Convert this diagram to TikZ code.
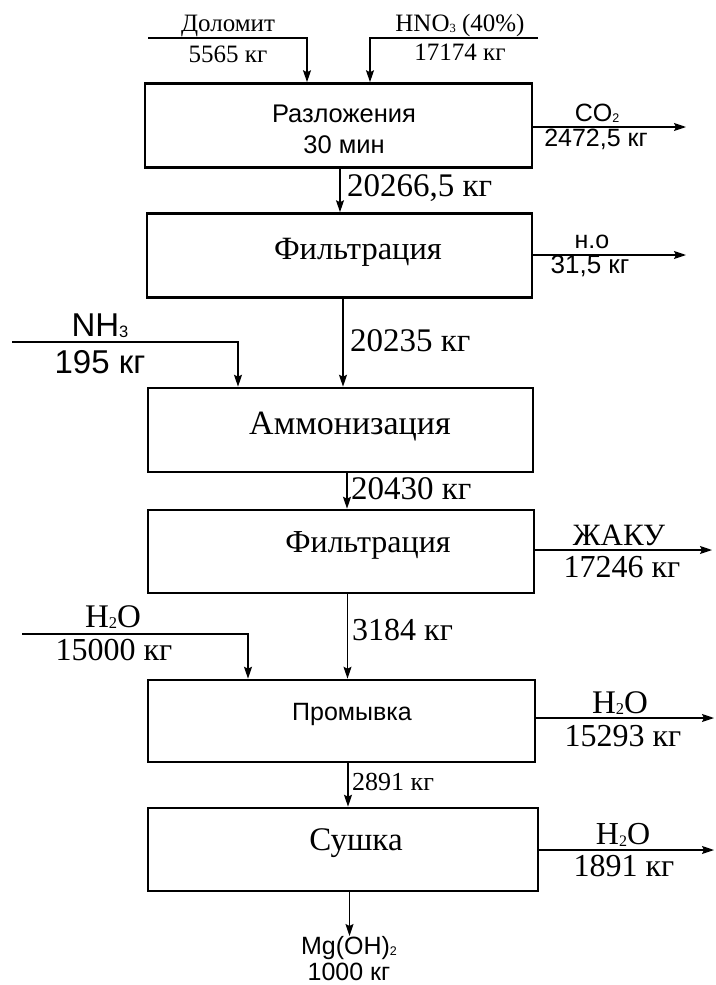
\documentclass[tikz,border=0pt]{standalone}
\usepackage{fontspec}
\setmainfont{Liberation Serif}
\setsansfont{Liberation Sans}
\usetikzlibrary{arrows.meta, calc}
\newcommand\chsub[1]{\raisebox{-0.04em}{\scalebox{0.5}{#1}}}

\begin{document}
\begin{tikzpicture}[x=1pt, y=-1pt,
  proc/.style={rectangle, draw, line width=2.6pt, minimum width=#1,
               minimum height=84pt, inner sep=0pt},
  flow/.style={-{Stealth[length=12pt, width=8pt, inset=2pt]}, line width=1.3pt},
  tms/.style={font=\fontsize{#1}{#1}\selectfont, inner sep=0pt},
  arl/.style={font=\sffamily\fontsize{#1}{#1}\selectfont, inner sep=0pt}
]
\useasboundingbox (0,0) rectangle (715,985);

% Process boxes
\node[proc=387pt] (b1) at (338.5,125.5) {};
\node[proc=385pt] (b2) at (339.5,255.5) {};
\node[proc=385pt] (b3) at (340.5,430) {};
\node[proc=386pt, minimum height=83pt] (b4) at (341,551.5) {};
\node[proc=387pt, minimum height=82pt] (b5) at (341.5,721) {};
\node[proc=390pt, minimum height=83pt] (b6) at (343,849.5) {};

% Box texts
\node[align=center, inner sep=0pt, font=\sffamily\fontsize{25.5}{31}\selectfont]
      (t1) at (344,129) {Разложения\\30 мин};
\node[tms=32.5] (t2) at (358,252) {Фильтрация};
\node[tms=34] (t3) at (350,427) {Аммонизация};
\node[tms=32] (t4) at (368,545) {Фильтрация};
\node[arl=25] (t5) at (352,714) {Промывка};
\node[tms=33] (t6) at (356,843) {Сушка};

% Main flow
\foreach \a/\b/\dx in {b1/b2/1.5, b2/b3/3.5, b3/b4/6.5, b4/b5/6.5, b5/b6/6.5}
  \draw[flow] ([xshift=\dx]\a.south) -- ([xshift=\dx]\a.south |- \b.north);

\node[tms=33, anchor=west] (m1) at (347,188) {20266,5 кг};
\node[tms=33, anchor=west] (m2) at (350,341) {20235 кг};
\node[tms=33, anchor=west] (m3) at (351,489) {20430 кг};
\node[tms=32, anchor=west] (m4) at (352,630) {3184 кг};
\node[tms=26, anchor=west] (m5) at (352,782) {2891 кг};

% Product
\node[anchor=north, align=center, inner sep=0pt,
      font=\sffamily\fontsize{25}{26}\selectfont]
      (prod) at (349,936) {Mg(OH)\chsub{2}\\1000 кг};
\draw[flow] ([xshift=6.5]b6.south) -- ([xshift=6.5]b6.south |- prod.north);

% Inputs
\coordinate (dol) at (148,38);
\coordinate (hno) at (538,38);
\coordinate (nh) at (12,342);
\coordinate (wat) at (22,634);
\draw[flow] (dol) -| ([xshift=-31.5]b1.north);
\draw[flow] (hno) -| ([xshift=31.5]b1.north);
\draw[flow] (nh) -| ([xshift=-102.5]b3.north);
\draw[flow] (wat) -| ([xshift=-93.5]b5.north);

\node[tms=25] (dolt) at (228,26) {Доломит};
\node[tms=25] (dolm) at (228,54) {5565 кг};
\node[tms=25] (hnot) at (460,25) {HNO\chsub{3} (40\%)};
\node[tms=25] (hnom) at (460,52) {17174 кг};
\node[arl=33] (nht) at (100,326) {NH\chsub{3}};
\node[arl=33] (nhm) at (100,362) {195 кг};
\node[tms=33] (watt) at (113,617) {H\chsub{2}O};
\node[tms=32] (watm) at (114,650) {15000 кг};

% Outputs
\coordinate (co) at (686,127);
\coordinate (no) at (686,255);
\coordinate (zh) at (712,550);
\coordinate (w1) at (714,718);
\coordinate (w2) at (714,850);
\foreach \a/\c in {b1/co, b2/no, b4/zh, b5/w1, b6/w2}
  \draw[flow] (\a.east |- \c) -- (\c);

\node[arl=25] (cot) at (597,113) {CO\chsub{2}};
\node[arl=25] (com) at (596,139) {2472,5 кг};
\node[arl=25] (not) at (592,242) {н.о};
\node[arl=26] (nom) at (590,266) {31,5 кг};
\node[tms=31] (zht) at (619,535) {ЖАКУ};
\node[tms=32] (zhm) at (622,567) {17246 кг};
\node[tms=33] (w1t) at (620,703) {H\chsub{2}O};
\node[tms=32] (w1m) at (623,736) {15293 кг};
\node[tms=32] (w2t) at (623,835) {H\chsub{2}O};
\node[tms=32] (w2m) at (624,866) {1891 кг};

\end{tikzpicture}
\end{document}
